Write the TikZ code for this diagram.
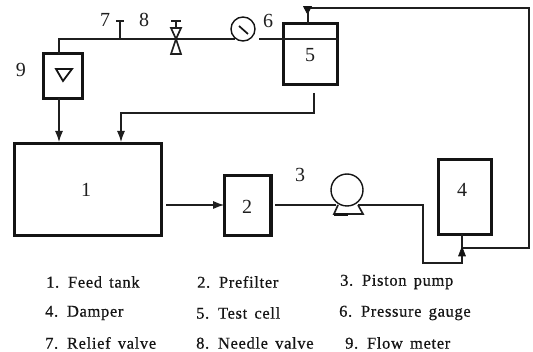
\documentclass[tikz,border=0pt]{standalone}
\usepackage{fontspec}
\setmainfont{Liberation Serif}
\newfontfamily\legendfont[LetterSpace=4,WordSpace=1.5,FakeBold=0.6]{Liberation Serif}
\usetikzlibrary{arrows.meta}
\tikzset{
  x=1pt,y=-1pt,
  vessel/.style={draw=black!92,line width=3.4pt,inner sep=0,outer sep=0,rectangle},
  pipe/.style={draw=black!88,line width=1.2pt},
  flow/.style={pipe,-{Latex[length=11pt,width=8pt]}},
  tag/.style={font=\fontsize{20}{20}\selectfont,inner sep=0,text=black!88},
  legend/.style={anchor=west,inner sep=0,text=black!92,font=\fontsize{16.5}{17}\legendfont},
  solid mark/.style={fill=black!92,draw=black!92,line width=.6pt},
  thinline/.style={draw=black!88,line width=1.7pt}
}
\begin{document}
\begin{tikzpicture}
\useasboundingbox (0,0) rectangle (533,352);
% vessels
\node[vessel,minimum width=146.6pt,minimum height=91.6pt] (n1) at (88,189.5) {};
\node[vessel,minimum width=46.6pt,minimum height=59.6pt] (n2) at (247.5,205.5) {};
\node[vessel,minimum width=52.6pt,minimum height=74.6pt] (n4) at (465,197) {};
\node[vessel,minimum width=53.6pt,minimum height=60.6pt] (n5) at (310.5,54) {};
\node[vessel,minimum width=38.6pt,minimum height=44.6pt] (n9) at (63,76) {};
% instruments
\node[draw=black!92,line width=1.4pt,circle,minimum size=24pt,inner sep=0] (gauge) at (243,29) {};
\node[draw=black!92,line width=1.4pt,circle,minimum size=32pt,inner sep=0] (pump) at (347,190) {};
% named junctions
\coordinate (corner9) at (59,39);
\coordinate (relief) at (120,39);
\coordinate (relieftop) at (120,21);
\coordinate (needle) at (176,39);
\coordinate (gaugeL) at (235,39);
\coordinate (gaugeR) at (259,39);
\coordinate (cellL) at (283,39);
\coordinate (cellR) at (338,39);
\coordinate (ret5) at (314,93);
\coordinate (retcorner) at (314,113);
\coordinate (ret1) at (121,142);
\coordinate (in9) at (59,142);
\coordinate (out1) at (166,205);
\coordinate (out2) at (275,205);
\coordinate (pumpL) at (336,205);
\coordinate (pumpR) at (358,205);
\coordinate (low1) at (423,205);
\coordinate (low2) at (423,263);
\coordinate (low3) at (462,263);
\coordinate (branch) at (462,248);
\coordinate (far1) at (529,248);
\coordinate (far2) at (529,8);
\coordinate (top5) at (311,8);
% pipes
\draw[pipe,line width=1.4pt] (n9.north -| corner9) -- (corner9) -- (gaugeL);
\draw[pipe] (gaugeR) -- (cellL) -- (cellR);
\draw[flow] (n9.south -| in9) -- (in9);
\draw[flow] (ret5) -- (retcorner) -| (ret1);
\draw[flow] (out1) -- (n2.west |- out1);
\draw[pipe] (out2) -- (pumpL);
\draw[pipe] (pumpR) -- (low1) -- (low2) -- (low3) -- (branch);
\draw[pipe] (branch) -- (far1) -- (far2) -- (top5);
% relief valve
\draw[pipe] (relief) -- (relieftop);
\draw[pipe] ([xshift=-4pt]relieftop) -- ([xshift=4pt]relieftop);
% needle valve
\draw[thinline,line join=miter] (needle) -- (171,28) -- (181,28) -- cycle;
\draw[thinline,line join=miter] (needle) -- (171,54) -- (181,54) -- cycle;
\draw[pipe] (176,28) -- (176,21);
\draw[pipe] (171,21) -- (181,21);
% gauge needle
\draw[line width=1.7pt,black!92] (239,26) -- (248,34);
% pump base
\draw[thinline] (338,205) -- (334,214) -- (363,214) -- (358,205);
\draw[line width=2.4pt,black!92] (334,214.5) -- (348,214.5);
% flow meter triangle
\draw[line width=1.8pt,black!92,line join=miter] (56,69) -- (72,69) -- (63,81) -- cycle;
% marker on cell 5 top
\draw[solid mark] (303.5,6.5) -- (311.5,6.5) -- (307.5,14) -- cycle;
\draw[pipe,line width=2pt] (307.5,12) -- (n5.north -| 307.5,0);
% marker under 4
\draw[solid mark] (462,247) -- (465.5,256) -- (458.5,256) -- cycle;
\draw[pipe,line width=2.6pt] (n4.south -| branch) -- (branch);
% labels
\node[tag] (t1) at (86,190) {1};
\node[tag] (t2) at (247,207) {2};
\node[tag] (t3) at (300,175) {3};
\node[tag] (t4) at (462,190) {4};
\node[tag] (t5) at (310,55) {5};
\node[tag] (t6) at (268,21) {6};
\node[tag] (t7) at (105,20) {7};
\node[tag] (t8) at (144,20) {8};
\node[tag] (t9) at (21,70) {9};
% legend
\node[legend] (l1) at (46,282) {1. Feed tank};
\node[legend] (l2) at (197,282) {2. Prefilter};
\node[legend] (l3) at (340,282) {3. Piston pump};
\node[legend] (l4) at (45,313) {4. Damper};
\node[legend] (l5) at (196,313) {5. Test cell};
\node[legend] (l6) at (339,313) {6. Pressure gauge};
\node[legend] (l7) at (45,343) {7. Relief valve};
\node[legend] (l8) at (196,343) {8. Needle valve};
\node[legend] (l9) at (345,343) {9. Flow meter};
\end{tikzpicture}
\end{document}
